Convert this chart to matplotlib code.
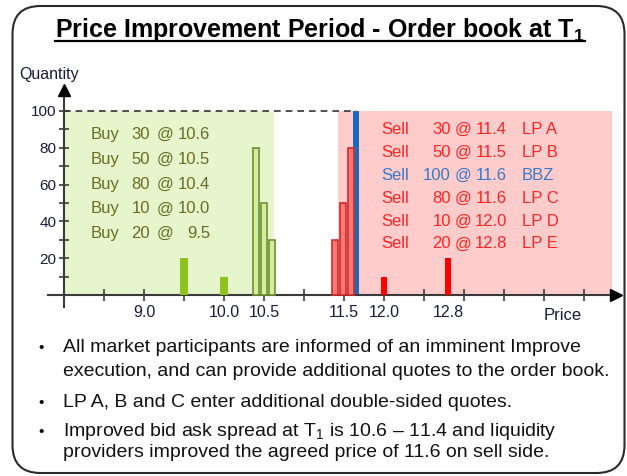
import matplotlib
matplotlib.use("Agg")
import matplotlib.pyplot as plt
import matplotlib.transforms as mtransforms
from matplotlib.patches import FancyBboxPatch
import numpy as np


# DATA

# buy side of the order book (new quotes from the liquidity providers first)
buy_prices = [10.6, 10.5, 10.4, 10.0, 9.5]
buy_qty = [30, 50, 80, 10, 20]
buy_is_new = [True, True, True, False, False]

# sell side, BBZ is the original order
sell_prices = [11.4, 11.5, 11.6, 11.6, 12.0, 12.8]
sell_qty = [30, 50, 100, 80, 10, 20]
sell_names = ["LP A", "LP B", "BBZ", "LP C", "LP D", "LP E"]
sell_is_new = [True, True, False, True, False, False]

x_tick_labels = ["9.0", "10.0", "10.5", "11.5", "12.0", "12.8"]
y_tick_values = [20, 40, 60, 80, 100]

bullet_lines = [
    ("All market participants are informed of an imminent Improve", True),
    ("execution, and can provide additional quotes to the order book.", False),
    ("LP A, B and C enter additional double-sided quotes.", True),
    (r"Improved bid ask spread at $\mathrm{T}_1$ is 10.6 – 11.4 and liquidity", True),
    ("providers improved the agreed price of 11.6 on sell side.", False),
]

title = r"Price Improvement Period - Order book at $\mathbf{T}_\mathbf{1}$"


# STYLE

W, H = 627, 476
FONT = "Liberation Sans"
plt.rcParams["font.family"] = [FONT, "DejaVu Sans"]
plt.rcParams["mathtext.fontset"] = "custom"
plt.rcParams["mathtext.rm"] = FONT
plt.rcParams["mathtext.it"] = FONT + ":italic"
plt.rcParams["mathtext.bf"] = FONT + ":bold"

AXIS_COL = "#3a3a3a"
LABEL_COL = "#1a1a40"
BUY_TXT = "#6b6b22"
SELL_TXT = "#ff2424"
BBZ_TXT = "#3a78c6"

fig = plt.figure(figsize=(W / 100, H / 100), dpi=100)

# pixel transform (origin top-left) for free text
px = mtransforms.Affine2D().scale(1.0 / W, -1.0 / H).translate(0, 1) + fig.transFigure

# background axes with the rounded frame
bg = fig.add_axes([0, 0, 1, 1])
bg.set_xlim(0, W)
bg.set_ylim(H, 0)
bg.axis("off")
bg.add_patch(FancyBboxPatch((12.5, 6), 612, 467,
                            boxstyle="round,pad=0,rounding_size=28",
                            fc="none", ec="#2a2a2a", lw=1.5))

# chart axes
ax = fig.add_axes([48 / W, 1 - 307 / H, 576 / W, 223 / H])
ax.set_xlim(7.8, 15.0)
ax.set_ylim(-6.5, 114.6)
ax.patch.set_alpha(0)

for s in ["top", "right"]:
    ax.spines[s].set_visible(False)
ax.spines["left"].set_position(("data", 8.0))
ax.spines["bottom"].set_position(("data", 0))
ax.spines["left"].set_bounds(-6.5, 110)
ax.spines["bottom"].set_bounds(7.8, 14.85)
for s in ["left", "bottom"]:
    ax.spines[s].set_color(AXIS_COL)
    ax.spines[s].set_linewidth(1.5)

# arrow heads
ax.plot(14.9, 0, ">", color="black", ms=8, clip_on=False, zorder=6)
ax.plot(8.0, 111.5, "^", color="black", ms=8, clip_on=False, zorder=6)

# ticks
ax.set_yticks(y_tick_values)
ax.set_yticks(np.arange(10, 100, 20), minor=True)
ax.tick_params(axis="y", which="both", direction="inout", length=7, width=1.2,
               color=AXIS_COL, labelsize=11, labelcolor=LABEL_COL, pad=2)

ax.xaxis.remove_overlapping_locs = False
ax.set_xticks([float(t) for t in x_tick_labels])
ax.set_xticklabels(x_tick_labels)
ax.set_xticks(np.arange(8.5, 14.6, 0.5), minor=True)
ax.tick_params(axis="x", which="major", length=0, labelsize=11.5,
               labelcolor=LABEL_COL, pad=7)
ax.tick_params(axis="x", which="minor", direction="inout", length=8,
               width=1.2, color=AXIS_COL)

# buy / sell zones
ax.fill_between([8.0, 10.625], 0, 100, color="#e6f5cc", lw=0, zorder=0)
ax.fill_between([11.425, 14.85], 0, 100, color="#ffcccc", lw=0, zorder=0)

# bars - buy side
for p, q, new in zip(buy_prices, buy_qty, buy_is_new):
    if new:
        ax.bar(p, q, width=0.075, color="#d6eca4", edgecolor="#6f8f2f",
               linewidth=1.2, zorder=3)
    else:
        ax.bar(p, q, width=0.09, color="#8dc21f", linewidth=0, zorder=3)

# bars - sell side
for p, q, name, new in zip(sell_prices, sell_qty, sell_names, sell_is_new):
    if name == "BBZ":
        ax.bar(p + 0.045, q, width=0.075, color="#1a6bc0", linewidth=0, zorder=2)
        ax.plot([8.0, p + 0.045], [q, q], ls=(0, (4, 3)), color="#333333",
                lw=1.2, zorder=2)
    elif new:
        ax.bar(p - 0.015, q, width=0.075, color="#ff7878", edgecolor="#d02a2a",
               linewidth=1.2, zorder=3)
    else:
        ax.bar(p, q, width=0.075, color="#ff0000", linewidth=0, zorder=3)

# order lists
for i, (p, q) in enumerate(zip(buy_prices, buy_qty)):
    y = 139 + 24.8 * i
    kw = dict(transform=px, fontsize=12, color=BUY_TXT, va="baseline", zorder=5)
    ax.text(91, y, "Buy", ha="left", **kw)
    ax.text(150, y, str(q), ha="right", **kw)
    ax.text(157, y, "@", ha="left", **kw)
    ax.text(210, y, f"{p:.1f}", ha="right", **kw)

for i, (p, q, name) in enumerate(zip(sell_prices, sell_qty, sell_names)):
    y = 134 + 22.9 * i
    col = BBZ_TXT if name == "BBZ" else SELL_TXT
    kw = dict(transform=px, fontsize=12, color=col, va="baseline", zorder=5)
    ax.text(381, y, "Sell", ha="left", **kw)
    ax.text(451, y, str(q), ha="right", **kw)
    ax.text(455, y, "@", ha="left", **kw)
    ax.text(507, y, f"{p:.1f}", ha="right", **kw)
    ax.text(522, y, name, ha="left", **kw)

# axis names
ax.text(49, 75, "Quantity", transform=px, fontsize=11.5, color=LABEL_COL,
        ha="center", va="center")
ax.text(563, 316, "Price", transform=px, fontsize=12, color=LABEL_COL,
        ha="center", va="center")

# title with underline
t = bg.text(320, 37, title, transform=px, fontsize=18, fontweight="bold",
            ha="center", va="baseline", color="black")

# bullets
baselines = [352, 376, 407, 436, 457]
for (line, first), y in zip(bullet_lines, baselines):
    if first:
        bg.text(41, y, "•", transform=px, fontsize=11, ha="center",
                va="baseline", color="black")
    bg.text(63, y, line, transform=px, fontsize=14, ha="left",
            va="baseline", color="#111111")

fig.canvas.draw()
bb = t.get_window_extent()
bg.plot([bb.x0, bb.x1], [41, 41], color="black", lw=1.6)

plt.savefig("out.png", dpi=100)
